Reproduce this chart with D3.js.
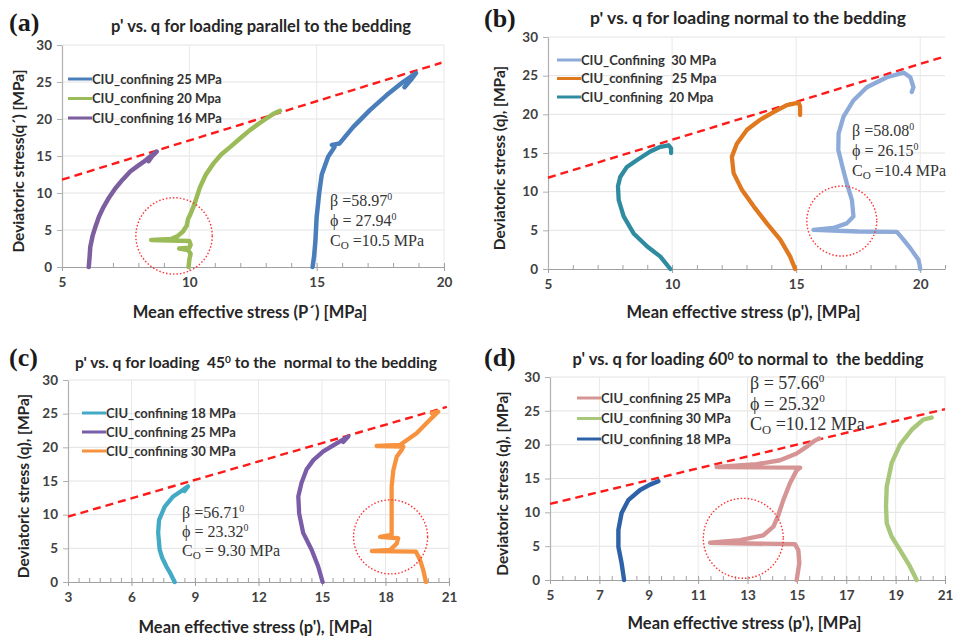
<!DOCTYPE html>
<html>
<head>
<meta charset="utf-8">
<script src="https://cdn.jsdelivr.net/npm/d3@7"></script>
<style>
  body { margin: 0; background: #fff; }
  text { white-space: pre; }
</style>
</head>
<body>
<div class="chart"></div>
<script>
// ---- data: [p', q] in MPa ----
var yTicks = [0, 5, 10, 15, 20, 25, 30];

// (a) loading parallel to the bedding
var aXTicks = [5, 10, 15, 20];
var aLegend = ["CIU_confining 25 MPa", "CIU_confining 20 Mpa", "CIU_confining 16 MPa"];
var aBlue25 = [[14.84,0],[14.9,1.5],[14.95,3.5],[15.0,6.8],[15.1,10],[15.2,12.5],[15.45,14.9],[15.7,16.2],[15.6,16.5],[15.9,16.7],[16.43,18.9],[17.09,21.2],[17.74,23.2],[18.39,25.0],[18.9,26.2],[18.7,25.3],[18.45,24.3]];
var aGreen20 = [[9.97,0],[10.0,1.0],[10.05,1.8],[9.95,2.3],[9.6,2.5],[10.0,2.6],[10.05,3.0],[10.0,3.5],[8.5,3.65],[9.3,3.8],[9.55,4.2],[9.75,4.8],[9.9,5.6],[9.95,6.5],[10.05,7.2],[10.2,8.5],[10.42,10.8],[10.65,12.5],[10.95,14.0],[11.25,15.2],[11.6,16.2],[12.0,17.4],[12.38,18.5],[12.7,19.3],[13.04,20.1],[13.3,20.7],[13.56,21.1]];
var aPurple16 = [[6.05,0],[6.08,1.2],[6.11,2.7],[6.2,4.2],[6.31,5.4],[6.45,6.8],[6.63,8.1],[6.85,9.4],[7.09,10.6],[7.38,11.8],[7.68,12.9],[7.95,13.6],[8.2,14.2],[8.45,14.9],[8.72,15.6],[8.55,15.0],[8.4,14.3]];
var aEnvelope = [[5, 11.8], [19.9, 27.6]];
var aCircle = [9.4, 4.2, 1.5];
var aParams = ["58.97", "27.94", "10.5 MPa"];

// (b) loading normal to the bedding
var bXTicks = [5, 10, 15, 20];
var bLegend = ["CIU_Confining  30 MPa", "CIU_confining   25 Mpa", "CIU_confining  20 Mpa"];
var bLight30 = [[20.0,0],[19.97,0.6],[19.93,1.2],[19.6,2.7],[19.3,3.9],[19.06,4.8],[17.5,4.85],[15.7,5.05],[16.5,5.3],[17.04,5.9],[17.31,6.8],[17.25,8.9],[17.04,11.1],[16.9,12.8],[16.7,15.4],[16.71,17.5],[16.91,19.7],[17.31,21.8],[17.85,23.5],[18.66,24.8],[19.33,25.4],[19.6,24.8],[19.73,23.5],[19.66,22.9]];
var bOrange25 = [[14.96,0],[14.76,1.6],[14.36,3.8],[13.82,5.9],[13.29,8.1],[12.82,10.2],[12.48,12.4],[12.41,14.5],[12.61,16.2],[13.02,18.0],[13.55,19.3],[14.09,20.3],[14.63,21.2],[15.1,21.5],[15.16,21.0],[15.16,19.9]];
var bTeal20 = [[9.93,0],[9.53,1.6],[9.0,2.9],[8.45,4.6],[8.05,6.8],[7.85,8.9],[7.82,10.7],[7.91,11.9],[8.18,13.2],[8.59,14.1],[9.12,15.2],[9.53,15.8],[9.86,16.0],[9.96,15.6],[9.96,15.0]];
var bEnvelope = [[5, 11.8], [21, 27.5]];
var bCircle = [16.84, 6.2, 1.41];
var bParams = ["58.08", "26.15", "10.4 MPa"];

// (c) loading 45 deg to the normal to the bedding
var cXTicks = [3, 6, 9, 12, 15, 18, 21];
var cLegend = ["CIU_confining 18 MPa", "CIU_confining 25 MPa", "CIU_confining 30 MPa"];
var cCyan18 = [[8.04,0],[7.85,1.2],[7.65,2.3],[7.45,3.6],[7.33,4.8],[7.26,7.3],[7.3,9.2],[7.57,11.2],[7.97,12.7],[8.44,13.7],[8.67,14.2],[8.5,13.5]];
var cPurple25 = [[15.03,0],[14.82,2.3],[14.51,4.8],[14.11,7.3],[13.92,10.2],[13.88,12.7],[14.03,14.7],[14.27,16.7],[14.59,18.1],[15.06,19.4],[15.69,20.6],[16.24,21.6],[16.0,20.8]];
var cOrange30 = [[19.91,0],[19.78,1.8],[19.63,3.3],[19.44,4.5],[17.35,4.6],[18.21,4.75],[18.53,5.7],[18.6,6.5],[17.74,6.7],[18.29,7.0],[18.29,10.7],[18.29,14.2],[18.37,16.6],[18.53,18.6],[18.76,19.6],[18.84,20.1],[17.58,20.2],[18.68,20.35],[19.47,22.1],[20.1,24.1],[20.49,25.3],[20.18,25.1]];
var cEnvelope = [[3, 9.7], [20.9, 26]];
var cCircle = [18.24, 6.7, 1.75];
var cParams = ["56.71", "23.32", " 9.30 MPa"];

// (d) loading 60 deg to normal to the bedding
var dXTicks = [5, 7, 9, 11, 13, 15, 17, 19, 21];
var dLegend = ["CIU_confining 25 MPa", "CIU_confining 30 MPa", "CIU_confining 18 MPa"];
var dRose25 = [[14.99,0],[15.1,2.5],[15.06,4.4],[14.92,5.3],[13.0,5.4],[11.48,5.5],[12.7,5.9],[13.64,6.6],[14.05,7.9],[14.25,9.6],[14.45,11.8],[14.72,14.3],[14.99,16.2],[15.13,16.6],[13.5,16.65],[11.75,16.7],[13.37,17.1],[14.32,17.7],[14.99,18.7],[15.4,19.7],[15.73,20.6],[15.9,20.9]];
var dGreen30 = [[19.85,0],[19.58,2.0],[19.18,4.4],[18.84,6.4],[18.64,8.4],[18.61,10.9],[18.64,13.8],[18.84,17.3],[19.18,20.0],[19.65,22.2],[20.12,23.7],[20.46,24.0]];
var dBlue18 = [[8.0,0],[7.9,2.5],[7.77,4.9],[7.77,7.4],[7.9,9.9],[8.17,11.8],[8.65,13.3],[9.05,14.1],[9.39,14.6]];
var dEnvelope = [[5, 11.25], [21, 25.25]];
var dCircle = [12.83, 6.16, 1.62];
var dParams = ["57.66", "25.32", "10.12 MPa"];

// ---- layout ----
var svg = d3.select(".chart").append("svg")
    .attr("width", 961)
    .attr("height", 638);

var labelFont = "Lato, 'Open Sans', sans-serif";
var serifFont = "'Liberation Serif', 'DejaVu Serif', serif";

var panels = [
  { tag: "(a)", tagX: 9, tagY: 31,
    title: ["p' vs. q for loading parallel to the bedding"], titleX: 261, titleY: 32, titleSize: 16.5,
    left: 62, right: 444, top: 45, bottom: 267, xDomain: [5, 20], xTicks: aXTicks, minorStep: 1,
    xTitle: "Mean effective stress (P\u00b4) [MPa]", xTitleY: 318,
    yTitle: "Deviatoric stress(q\u00b4) [MPa]", yTitleX: 24,
    series: [aBlue25, aGreen20, aPurple16], colors: ["#4a7ebb", "#9bbb59", "#7d5fa0"], width: 4.5,
    legend: aLegend, legendX: 68, legendY: 79, legendGap: 19.5,
    envelope: aEnvelope, circle: aCircle,
    params: aParams, paramX: 330, paramY: 206, paramGap: 20, paramSize: 16, paramEq: [" =", " = ", " ="] },
  { tag: "(b)", tagX: 484, tagY: 27,
    title: ["p' vs. q for loading normal to the bedding"], titleX: 748, titleY: 24, titleSize: 17.5,
    left: 548, right: 945, top: 37, bottom: 269, xDomain: [5, 21], xTicks: bXTicks, minorStep: 1,
    xTitle: "Mean effective stress (p'), [MPa]", xTitleY: 318,
    yTitle: "Deviatoric stress (q), [MPa]", yTitleX: 505,
    series: [bLight30, bOrange25, bTeal20], colors: ["#8eaad8", "#e0781f", "#2f8ca0"], width: 4.3,
    legend: bLegend, legendX: 557, legendY: 60, legendGap: 18.5,
    envelope: bEnvelope, circle: bCircle,
    params: bParams, paramX: 852, paramY: 136, paramGap: 20, paramSize: 16, paramEq: [" =", " = ", " ="] },
  { tag: "(c)", tagX: 9, tagY: 366,
    title: ["p' vs. q for loading  45", "0", " to the  normal to the bedding"], titleX: 256, titleY: 368, titleSize: 15.6,
    left: 68, right: 449, top: 380, bottom: 582, xDomain: [3, 21], xTicks: cXTicks, minorStep: 0.5,
    xTitle: "Mean effective stress (p'), [MPa]", xTitleY: 633,
    yTitle: "Deviatoric stress (q), [MPa]", yTitleX: 29,
    series: [cCyan18, cPurple25, cOrange30], colors: ["#43aac6", "#7a5ca8", "#f7933f"], width: 4.3,
    legend: cLegend, legendX: 82, legendY: 413, legendGap: 19,
    envelope: cEnvelope, circle: cCircle,
    params: cParams, paramX: 182, paramY: 518, paramGap: 19, paramSize: 16, paramEq: [" =", " = ", " ="] },
  { tag: "(d)", tagX: 484, tagY: 366,
    title: ["p' vs. q for loading 60", "0", " to normal to  the bedding"], titleX: 748, titleY: 365, titleSize: 16.5,
    left: 550, right: 945, top: 377, bottom: 580, xDomain: [5, 21], xTicks: dXTicks, minorStep: 0.5,
    xTitle: "Mean effective stress (p'), [MPa]", xTitleY: 629,
    yTitle: "Deviatoric stress (q), [MPa]", yTitleX: 508,
    series: [dRose25, dGreen30, dBlue18], colors: ["#d69594", "#a9c77a", "#2e62a8"], width: 4.4,
    legend: dLegend, legendX: 577, legendY: 398, legendGap: 20.5,
    envelope: dEnvelope, circle: dCircle,
    params: dParams, paramX: 750, paramY: 389, paramGap: 20.5, paramSize: 18, paramEq: [" = ", " = ", " = "] }
];

panels.forEach(drawPanel);

function drawPanel(cfg) {
  var x = d3.scaleLinear().domain(cfg.xDomain).range([cfg.left, cfg.right]);
  var y = d3.scaleLinear().domain([0, 30]).range([cfg.bottom, cfg.top]);
  var g = svg.append("g");

  // gridlines
  g.selectAll(".hgrid").data(yTicks.slice(1)).enter().append("line")
      .attr("x1", cfg.left).attr("x2", cfg.right)
      .attr("y1", d => y(d)).attr("y2", d => y(d))
      .attr("stroke", "#e3e3e3").attr("stroke-width", 1);
  g.selectAll(".vgrid").data(cfg.xTicks.slice(1)).enter().append("line")
      .attr("x1", d => x(d)).attr("x2", d => x(d))
      .attr("y1", cfg.top).attr("y2", cfg.bottom)
      .attr("stroke", "#e8e8e8").attr("stroke-width", 1);

  // minor ticks on x axis
  var minor = d3.range(cfg.xDomain[0], cfg.xDomain[1] + 0.001, cfg.minorStep);
  g.append("g")
      .attr("transform", `translate(0, ${cfg.bottom})`)
      .call(d3.axisBottom(x).tickValues(minor).tickSize(-4).tickFormat(""))
      .call(a => a.select(".domain").remove())
      .call(a => a.selectAll("line").attr("stroke", "#a0a0a0"));

  // x axis
  var xAxis = g.append("g")
      .attr("transform", `translate(0, ${cfg.bottom})`)
      .call(d3.axisBottom(x).tickValues(cfg.xTicks).tickSize(4).tickPadding(6).tickSizeOuter(0));
  xAxis.select(".domain").attr("stroke", "#a0a0a0").attr("stroke-width", 1.2);
  xAxis.selectAll("line").attr("stroke", "#a0a0a0");
  xAxis.selectAll("text")
      .attr("font-family", labelFont).attr("font-weight", 700).attr("font-size", 13.5)
      .attr("fill", "#404040");

  // y axis
  var yAxis = g.append("g")
      .attr("transform", `translate(${cfg.left}, 0)`)
      .call(d3.axisLeft(y).tickValues(yTicks).tickSize(5).tickPadding(5).tickSizeOuter(0));
  yAxis.select(".domain").attr("stroke", "#b0b0b0").attr("stroke-width", 1.2);
  yAxis.selectAll("line").attr("stroke", "#b0b0b0");
  yAxis.selectAll("text")
      .attr("font-family", labelFont).attr("font-weight", 700).attr("font-size", 13.5)
      .attr("fill", "#404040");

  // failure envelope
  g.append("line")
      .attr("x1", x(cfg.envelope[0][0])).attr("y1", y(cfg.envelope[0][1]))
      .attr("x2", x(cfg.envelope[1][0])).attr("y2", y(cfg.envelope[1][1]))
      .attr("stroke", "#ff1a1a").attr("stroke-width", 2.4)
      .attr("stroke-dasharray", "8,5");

  // stress paths
  var line = d3.line().x(d => x(d[0])).y(d => y(d[1]));
  cfg.series.forEach(function(s, i) {
    g.append("path")
        .datum(s)
        .attr("d", line)
        .attr("fill", "none")
        .attr("stroke", cfg.colors[i])
        .attr("stroke-width", cfg.width)
        .attr("stroke-linejoin", "round")
        .attr("stroke-linecap", "round");
  });

  // dotted circle around the drop
  var pxPerUnit = x(cfg.xDomain[0] + 1) - x(cfg.xDomain[0]);
  g.append("circle")
      .attr("cx", x(cfg.circle[0])).attr("cy", y(cfg.circle[1]))
      .attr("r", cfg.circle[2] * pxPerUnit)
      .attr("fill", "none").attr("stroke", "#ff3030")
      .attr("stroke-width", 1.4).attr("stroke-dasharray", "1.5,2");

  // legend
  cfg.legend.forEach(function(lbl, i) {
    var ly = cfg.legendY + i * cfg.legendGap;
    g.append("line")
        .attr("x1", cfg.legendX).attr("x2", cfg.legendX + 24)
        .attr("y1", ly).attr("y2", ly)
        .attr("stroke", cfg.colors[i]).attr("stroke-width", 3);
    g.append("text")
        .attr("x", cfg.legendX + 24).attr("y", ly + 4.5)
        .attr("font-family", labelFont).attr("font-weight", 700).attr("font-size", 13)
        .attr("fill", "#333")
        .text(lbl);
  });

  // parameters (beta, phi, Co)
  var fs = cfg.paramSize;
  var p1 = g.append("text").attr("x", cfg.paramX).attr("y", cfg.paramY)
      .attr("font-family", serifFont).attr("font-size", fs).attr("fill", "#333");
  p1.append("tspan").text("\u03b2" + cfg.paramEq[0] + cfg.params[0]);
  p1.append("tspan").attr("dy", -fs * 0.4).attr("font-size", fs * 0.62).text("0");

  var p2 = g.append("text").attr("x", cfg.paramX).attr("y", cfg.paramY + cfg.paramGap)
      .attr("font-family", serifFont).attr("font-size", fs).attr("fill", "#333");
  p2.append("tspan").text("\u03d5" + cfg.paramEq[1] + cfg.params[1]);
  p2.append("tspan").attr("dy", -fs * 0.4).attr("font-size", fs * 0.62).text("0");

  var p3 = g.append("text").attr("x", cfg.paramX).attr("y", cfg.paramY + 2 * cfg.paramGap)
      .attr("font-family", serifFont).attr("font-size", fs).attr("fill", "#333");
  p3.append("tspan").text("C");
  p3.append("tspan").attr("dy", fs * 0.2).attr("font-size", fs * 0.7).text("O");
  p3.append("tspan").attr("dy", -fs * 0.2).text(cfg.paramEq[2].replace(/ $/, "") + cfg.params[2]);

  // title
  var t = g.append("text")
      .attr("x", cfg.titleX).attr("y", cfg.titleY)
      .attr("text-anchor", "middle")
      .attr("font-family", labelFont).attr("font-weight", 700).attr("font-size", cfg.titleSize)
      .attr("fill", "#262626");
  t.append("tspan").text(cfg.title[0]);
  if (cfg.title.length > 1) {
    t.append("tspan").attr("dy", -5).attr("font-size", cfg.titleSize * 0.65).text(cfg.title[1]);
    t.append("tspan").attr("dy", 5).text(cfg.title[2]);
  }

  // panel tag
  g.append("text")
      .attr("x", cfg.tagX).attr("y", cfg.tagY)
      .attr("font-family", serifFont).attr("font-weight", 700).attr("font-size", 26)
      .attr("fill", "#1a1a1a")
      .text(cfg.tag);

  // axis titles
  g.append("text")
      .attr("x", (cfg.left + cfg.right) / 2 - 3).attr("y", cfg.xTitleY)
      .attr("text-anchor", "middle")
      .attr("font-family", labelFont).attr("font-weight", 700).attr("font-size", 16.5)
      .attr("fill", "#262626")
      .text(cfg.xTitle);

  g.append("text")
      .attr("transform", `translate(${cfg.yTitleX}, ${(cfg.top + cfg.bottom) / 2 + 5}) rotate(-90)`)
      .attr("text-anchor", "middle")
      .attr("font-family", labelFont).attr("font-weight", 700).attr("font-size", 15.5)
      .attr("fill", "#262626")
      .text(cfg.yTitle);
}
</script>
</body>
</html>
